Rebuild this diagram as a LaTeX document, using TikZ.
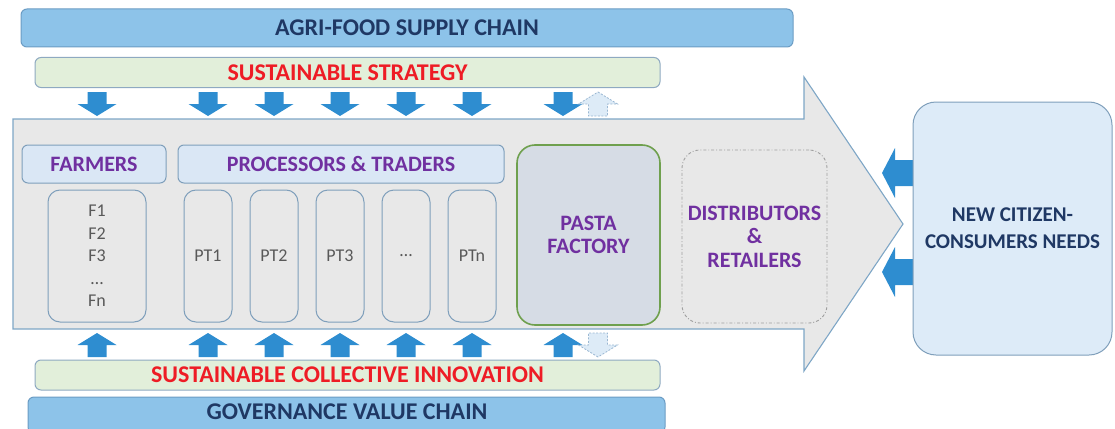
\documentclass[tikz,border=0pt]{standalone}
\usepackage{fontspec}
\setmainfont{Carlito}
\definecolor{chnbg}{HTML}{8DC3E9}
\definecolor{chnln}{HTML}{6B9CC4}
\definecolor{strbg}{HTML}{E2EFDA}
\definecolor{strln}{HTML}{8EA9C1}
\definecolor{flwbg}{HTML}{E8E8E8}
\definecolor{flwln}{HTML}{7EA6C6}
\definecolor{hdrbg}{HTML}{DAE7F5}
\definecolor{actln}{HTML}{7F9FBB}
\definecolor{pfbg}{HTML}{D6DCE5}
\definecolor{pfln}{HTML}{6FA04E}
\definecolor{cnbg}{HTML}{DDEBF8}
\definecolor{arwbg}{HTML}{2E8DD0}
\definecolor{ghbg}{HTML}{DDEBF7}
\definecolor{ghln}{HTML}{9AB7D2}
\definecolor{navytx}{HTML}{1F3864}
\definecolor{purptx}{HTML}{7030A0}
\definecolor{redtx}{HTML}{EE1C25}
\definecolor{graytx}{HTML}{595959}
\tikzset{fdp/.style={
  x=1pt,
  y=-1pt
}}
\tikzset{bxn/.style={
  draw,
  line width=1pt,
  rounded corners=6pt,
  inner sep=0pt,
  align=center,
  font=\bfseries\fontsize{22}{25}\selectfont,
}}
\tikzset{chn/.style={bxn,fill=chnbg,draw=chnln,text=navytx,minimum height=38pt,
  font=\bfseries\fontsize{24}{27}\selectfont}}
\tikzset{stn/.style={bxn,fill=strbg,draw=strln,text=redtx,minimum height=30pt,
  font=\bfseries\fontsize{24}{27}\selectfont}}
\tikzset{hdn/.style={bxn,fill=hdrbg,draw=actln,text=purptx,minimum height=38pt}}
\tikzset{acn/.style={
  bxn,
  rounded corners=12pt,
  fill=flwbg,
  draw=actln,
  text=graytx,
  font=\fontsize{18}{22.5}\selectfont,
  minimum width=48pt,
  minimum height=132pt,
}}
\tikzset{pfn/.style={
  bxn,
  rounded corners=18pt,
  fill=pfbg,
  draw=pfln,
  line width=1.6pt,
  text=purptx,
  font=\bfseries\fontsize{22}{23.5}\selectfont,
}}
\tikzset{drn/.style={pfn,fill=none,draw=gray!75,line width=0.9pt,dash dot}}
\tikzset{cnn/.style={bxn,rounded corners=23pt,fill=cnbg,draw=actln,text=navytx,
  font=\bfseries\fontsize{21}{27}\selectfont}}
\tikzset{arw/.style={fill=arwbg}}
\tikzset{gha/.style={fill=ghbg,draw=ghln,line width=0.8pt,dash pattern=on 2pt off 1.5pt}}
% block arrow, tip at the origin, pointing up
\tikzset{blk/.pic={
  \path[pic actions] (0,0) -- (19.5,12) -- (9.5,12) -- (9.5,24)
    -- (-9.5,24) -- (-9.5,12) -- (-19.5,12) -- cycle;
}}
% block arrow, tip at the origin, pointing left
\tikzset{lfa/.pic={
  \path[pic actions] (0,0) -- (13,-25) -- (13,-13) -- (40,-13)
    -- (40,13) -- (13,13) -- (13,25) -- cycle;
}}

\begin{document}
\begin{tikzpicture}[fdp]
  \useasboundingbox (0,0) rectangle (1115,428);
  % Top bars
  \node[chn,minimum width=772pt] (agri) at (407,28) {AGRI-FOOD SUPPLY CHAIN};
  \node[stn,minimum width=625pt] (strat) at (347.5,72.5) {SUSTAINABLE STRATEGY};
  \foreach \x in {97,208,274,340,406,472,563}
    \pic[arw,rotate=180] at (\x,116) {blk};
  \pic[gha] at (598,92) {blk};
  % Flow arrow
  \draw[fill=flwbg,draw=flwln,line width=1.1pt]
    (13,119) -- (804,119) -- (804,77) -- (903,224)
    -- (804,371) -- (804,329) -- (13,329) -- cycle;
  \node[hdn,minimum width=144pt] (farm) at (94,164) {FARMERS};
  \node[hdn,minimum width=326pt] (proc) at (341,164) {PROCESSORS \& TRADERS};
  \node[acn,minimum width=98pt] (fbox) at (97,256) {F1\\F2\\F3\\…\\Fn};
  \node[acn] (pt1) at (208,256) {PT1};
  \node[acn] (pt2) at (274,256) {PT2};
  \node[acn] (pt3) at (340,256) {PT3};
  \node[acn] (ptd) at (406,256) {…};
  \node[acn] (ptn) at (472,256) {PTn};
  \node[pfn,minimum width=143pt,minimum height=180pt] (pasta) at (588.5,235)
    {PASTA\\FACTORY};
  \node[drn,minimum width=145pt,minimum height=173pt] (distr) at (754.5,236.5)
    {DISTRIBUTORS\\\&\\RETAILERS};
  % Bottom bars
  \foreach \x in {97,208,274,340,406,472,563}
    \pic[arw] at (\x,333) {blk};
  \pic[gha,rotate=180] at (598,357) {blk};
  \node[stn,minimum width=625pt] (innov) at (347.5,375) {SUSTAINABLE COLLECTIVE INNOVATION};
  \node[chn,minimum width=637pt,minimum height=36pt] (gov) at (346.5,415) {};
  \node[text=navytx,font=\bfseries\fontsize{24}{27}\selectfont] (govtx) at (347,412)
    {GOVERNANCE VALUE CHAIN};
  % Consumers
  \pic[arw] at (882,173) {lfa};
  \pic[arw] at (882,272) {lfa};
  \node[cnn,minimum width=199pt,minimum height=253pt] (needs) at (1012.5,228.5)
    {NEW CITIZEN-\\CONSUMERS NEEDS};
\end{tikzpicture}
\end{document}
